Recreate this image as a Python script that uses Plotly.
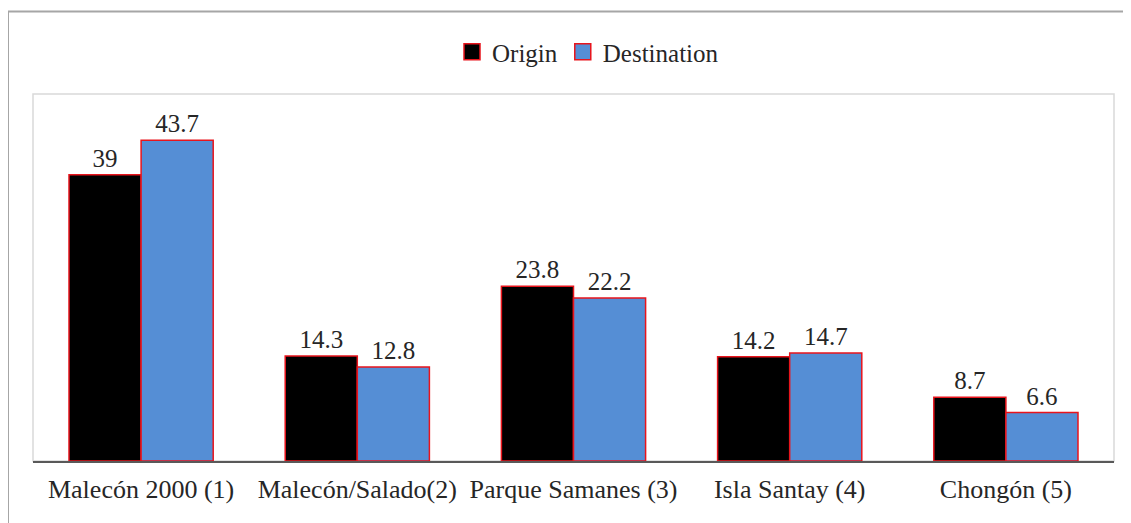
import plotly.graph_objects as go

categories = ["Malecón 2000 (1)", "Malecón/Salado(2)", "Parque Samanes (3)", "Isla Santay (4)", "Chongón (5)"]
origin = [39, 14.3, 23.8, 14.2, 8.7]
destination = [43.7, 12.8, 22.2, 14.7, 6.6]
series_names = ["Origin", "Destination"]

OFF = 8  # page body margin
W, H = 1131 - OFF, 523 - OFF
L, T = 33 - OFF, 94 - OFF
R = W - (1114 - OFF)
B = H - (461 - OFF)
pw, ph = W - L - R, H - T - B

def px_x(sx):
    return (sx - OFF - L) / pw

def px_y(sy):
    return (H - B - (sy - OFF)) / ph

FAM = "'Liberation Serif', 'DejaVu Serif', serif"
TXT = "#262626"
font = dict(family=FAM, size=26, color=TXT)
colors = ["#000000", "#558ed5"]
edge = "#e8141c"

fig = go.Figure()
for name, vals, col in zip(series_names, [origin, destination], colors):
    fig.add_trace(go.Bar(name=name, x=categories, y=vals, text=[f"{v:g}" for v in vals],
                         textposition="outside", showlegend=False,
                         marker=dict(color=col, line=dict(color=edge, width=1.5))))
    fig.add_trace(go.Scatter(name=name, x=[None], y=[None], mode="markers", showlegend=True,
                             marker=dict(symbol="square", size=18, color=col, line=dict(color=edge, width=1.5))))

fig.update_traces(textfont=dict(family=FAM, size=25, color=TXT), cliponaxis=False, selector=dict(type="bar"))

fig.update_layout(
    width=W, height=H,
    margin=dict(l=L, r=R, t=T, b=B, autoexpand=False),
    paper_bgcolor="white", plot_bgcolor="white",
    barmode="group", bargap=0.333, bargroupgap=0,
    font=font,
    showlegend=True,
    legend=dict(orientation="h", x=px_x(588), xanchor="center", y=px_y(52), yanchor="middle",
                font=dict(family=FAM, size=25, color=TXT),
                itemwidth=30, traceorder="normal", itemsizing="trace"),
    xaxis=dict(showgrid=False, showline=True, linecolor="#595959", linewidth=2, ticks="",
               tickfont=dict(family=FAM, size=26, color=TXT), ticklabelstandoff=4,
               tickangle=0, automargin=False),
    yaxis=dict(range=[0, 50], showgrid=False, showticklabels=False, zeroline=False, showline=False,
               automargin=False),
)

# plot area border (light gray)
fig.add_shape(type="rect", xref="paper", yref="paper", x0=0, y0=0, x1=1, y1=1,
              line=dict(color="#d9d9d9", width=1.5), layer="below")
# outer frame
fig.add_shape(type="rect", xref="paper", yref="paper", x0=px_x(8), y0=px_y(560), x1=px_x(1160), y1=px_y(11.5),
              line=dict(color="#a6a6a6", width=2), layer="below")

fig.write_html("out.html")
